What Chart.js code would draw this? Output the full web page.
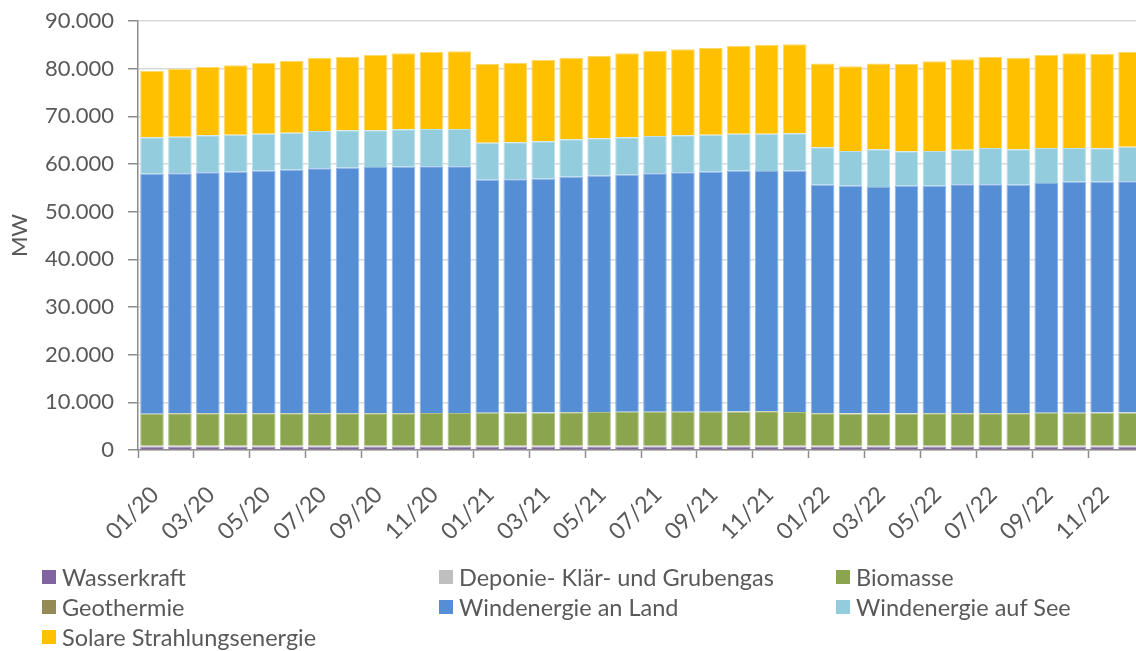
<!DOCTYPE html>
<html lang="de">
<head>
<meta charset="utf-8">
<title>Installierte Leistung</title>
<script src="https://cdn.jsdelivr.net/npm/chart.js@4.4.1/dist/chart.umd.min.js"></script>
<style>
  html, body { margin: 0; padding: 0; background: #fff; width: 1136px; height: 651px; overflow: hidden; }
  #wrap { position: absolute; left: 0; top: 0; width: 1144px; height: 560px; }
  #legend { position: absolute; left: 0; top: 0; width: 1136px; height: 651px; pointer-events: none; }
  .item { position: absolute; display: flex; align-items: center; height: 30px;
          font-family: Lato, "Open Sans", sans-serif; font-size: 23.5px; color: #595959; white-space: nowrap; }
  .box { width: 14px; height: 14px; margin-right: 6px; flex: none; }
</style>
</head>
<body>
<div id="wrap"><canvas id="chart" width="1144" height="560"></canvas></div>
<div id="legend"></div>
<script>
// Monate (Kategorien)
const months = [
  '01/20','02/20','03/20','04/20','05/20','06/20','07/20','08/20','09/20','10/20','11/20','12/20',
  '01/21','02/21','03/21','04/21','05/21','06/21','07/21','08/21','09/21','10/21','11/21','12/21',
  '01/22','02/22','03/22','04/22','05/22','06/22','07/22','08/22','09/22','10/22','11/22','12/22'
];

// Installierte Leistung je Energieträger in MW
const wasserkraft = [
  680,680,680,680,680,680,680,680,680,680,680,680,
  680,680,680,680,680,680,680,680,680,680,680,680,
  670,670,670,670,670,670,670,670,670,670,670,670
];
const deponieGas = [
  210,210,210,210,210,210,210,210,210,210,210,210,
  210,210,210,210,210,210,210,210,210,210,210,210,
  210,210,210,210,210,210,210,210,210,210,210,210
];
const biomasse = [
  6660,6800,6800,6800,6800,6800,6810,6810,6830,6830,6850,6850,
  6910,6940,6940,7010,7060,7080,7080,7080,7090,7160,7220,7060,
  6820,6770,6770,6770,6820,6820,6840,6840,6870,6920,6950,6950
];
const geothermie = [
  40,40,40,40,40,40,40,40,40,40,40,40,
  40,40,40,40,40,40,40,40,40,40,40,40,
  40,40,40,40,40,40,40,40,40,40,40,40
];
const windLand = [
  50370,50310,50520,50660,50870,51070,51350,51490,51610,51680,51730,51730,
  48870,48910,49050,49400,49560,49750,50030,50240,50370,50510,50380,50610,
  47920,47760,47480,47760,47710,47990,47970,47900,48220,48450,48420,48490
];
const windSee = [
  7640,7690,7760,7760,7760,7770,7830,7830,7690,7830,7830,7830,
  7760,7760,7830,7830,7830,7830,7830,7760,7760,7760,7830,7830,
  7840,7270,7910,7210,7270,7280,7630,7420,7350,7070,7000,7280
];
const solar = [
  13900,14200,14340,14550,14820,15030,15310,15440,15800,15940,16150,16290,
  16500,16710,17060,17130,17340,17620,17900,18040,18180,18450,18600,18670,
  17610,17770,18030,18310,18810,18940,19140,19220,19500,19850,19780,19920
];

// Y-Achsen-Ticks
const yTicks = [0, 10000, 20000, 30000, 40000, 50000, 60000, 70000, 80000, 90000];

const series = [
  { label: 'Wasserkraft',                   data: wasserkraft, color: '#8064a2', edge: '#a28cbf' },
  { label: 'Deponie- Klär- und Grubengas',  data: deponieGas,  color: '#bfbfbf', edge: '#d6d6d6' },
  { label: 'Biomasse',                      data: biomasse,    color: '#8ba54e', edge: '#aec286' },
  { label: 'Geothermie',                    data: geothermie,  color: '#948a54', edge: '#b3ab82' },
  { label: 'Windenergie an Land',           data: windLand,    color: '#558ed5', edge: '#8db3e4' },
  { label: 'Windenergie auf See',           data: windSee,     color: '#93cddd', edge: '#bde0ea' },
  { label: 'Solare Strahlungsenergie',      data: solar,       color: '#ffc000', edge: '#ffd966' }
];

const textColor = '#595959';
const axisColor = '#8c8c8c';
const font = { family: 'Lato, "Open Sans", sans-serif', size: 22 };
const xFont = { family: 'Lato, "Open Sans", sans-serif', size: 23 };

const fmt = v => String(v).replace(/\B(?=(\d{3})+(?!\d))/g, '.');

new Chart(document.getElementById('chart'), {
  type: 'bar',
  data: {
    labels: months,
    datasets: series.map(s => ({
      label: s.label,
      data: s.data,
      backgroundColor: s.color,
      borderColor: s.edge,
      borderWidth: 1,
      categoryPercentage: 1,
      barPercentage: 0.845
    }))
  },
  options: {
    responsive: false,
    animation: false,
    events: [],
    layout: { padding: { top: 21, left: 0, right: 0, bottom: 0 } },
    plugins: { legend: { display: false }, tooltip: { enabled: false } },
    scales: {
      x: {
        stacked: true,
        grid: {
          offset: true,
          drawOnChartArea: false,
          tickLength: 8,
          tickWidth: 1.5,
          tickColor: c => (c.index % 2 === 0 ? axisColor : 'rgba(0,0,0,0)')
        },
        border: { display: true, color: axisColor, width: 1.5 },
        ticks: {
          autoSkip: false,
          minRotation: 45,
          maxRotation: 45,
          padding: 23,
          labelOffset: 3,
          color: textColor,
          font: xFont,
          callback: (v, i) => (i % 2 === 0 ? months[i] : '')
        },
        afterFit: s => { s.height = 110; s.paddingLeft = 0; s.paddingRight = 0; }
      },
      y: {
        stacked: true,
        min: yTicks[0],
        max: yTicks[yTicks.length - 1],
        afterBuildTicks: s => { s.ticks = yTicks.map(v => ({ value: v })); },
        ticks: { color: textColor, font: font, padding: 14, callback: v => fmt(v) },
        grid: { color: '#d9d9d9', lineWidth: 1.5, tickColor: axisColor, tickLength: 10, tickWidth: 1.5 },
        border: { color: axisColor, width: 1.5 },
        title: { display: true, text: 'MW', color: textColor, font: font, padding: { top: 7, bottom: 0 } },
        afterFit: s => { s.width = 138; s.paddingTop = 0; s.paddingBottom = 0; }
      }
    }
  }
});

// Legende in drei Spalten
const legendCols = [42, 439, 836];
const legendRows = [577, 607, 637];
const legend = document.getElementById('legend');
series.forEach((s, i) => {
  const item = document.createElement('div');
  item.className = 'item';
  item.style.left = legendCols[i % 3] + 'px';
  item.style.top = (legendRows[Math.floor(i / 3)] - 15) + 'px';
  const box = document.createElement('span');
  box.className = 'box';
  box.style.background = s.color;
  const txt = document.createElement('span');
  txt.textContent = s.label;
  item.appendChild(box);
  item.appendChild(txt);
  legend.appendChild(item);
});
</script>
</body>
</html>
